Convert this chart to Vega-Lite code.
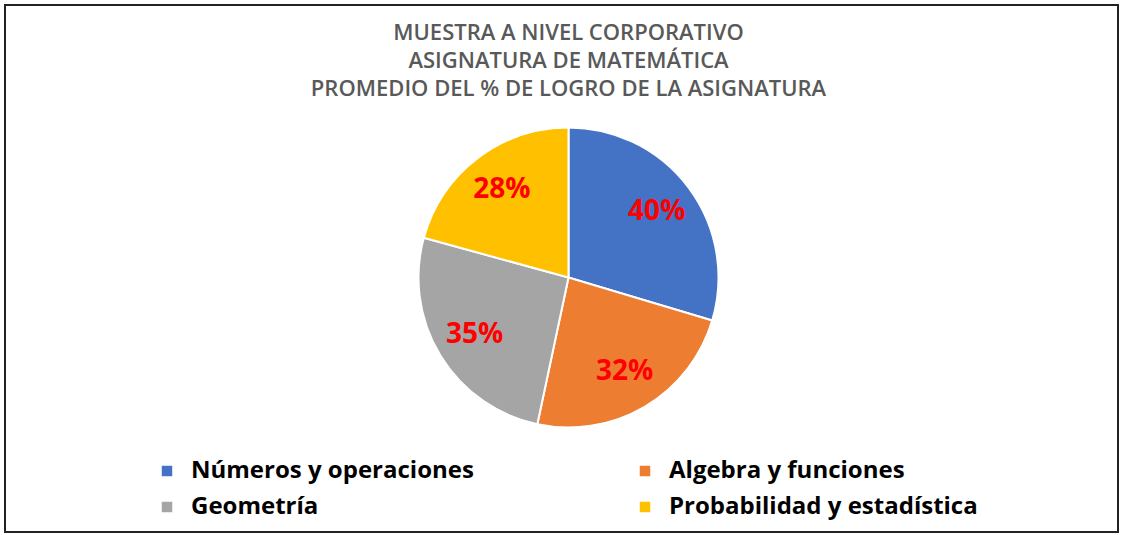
{
  "$schema": "https://vega.github.io/schema/vega-lite/v6.json",
  "width": 1113,
  "height": 527,
  "autosize": {"type": "none"},
  "padding": {"left": 5, "top": 5, "right": 5, "bottom": 3},
  "background": "white",
  "view": {"stroke": "#222222", "strokeWidth": 2},
  "title": {
    "text": ["MUESTRA A  NIVEL CORPORATIVO", "ASIGNATURA DE MATEMÁTICA", "PROMEDIO DEL % DE LOGRO DE LA  ASIGNATURA"],
    "orient": "top",
    "anchor": "middle",
    "offset": -96,
    "dx": 7,
    "font": "Open Sans",
    "fontSize": 22,
    "fontWeight": 600,
    "color": "#595959",
    "lineHeight": 28
  },
  "data": {
    "values": [
      {"area": "Números y operaciones", "valor": 40, "etiqueta": "40%", "orden": 1},
      {"area": "Algebra y funciones", "valor": 32, "etiqueta": "32%", "orden": 2},
      {"area": "Geometría", "valor": 35, "etiqueta": "35%", "orden": 3},
      {"area": "Probabilidad y estadística", "valor": 28, "etiqueta": "28%", "orden": 4}
    ]
  },
  "encoding": {
    "theta": {"field": "valor", "type": "quantitative", "stack": true},
    "order": {"field": "orden", "type": "quantitative"},
    "color": {
      "field": "area",
      "type": "nominal",
      "sort": ["Números y operaciones", "Algebra y funciones", "Geometría", "Probabilidad y estadística"],
      "scale": {
        "domain": ["Números y operaciones", "Algebra y funciones", "Geometría", "Probabilidad y estadística"],
        "range": ["#4472C4", "#ED7D31", "#A5A5A5", "#FFC000"]
      },
      "legend": {
        "title": null,
        "orient": "none",
        "legendX": 150,
        "legendY": 454,
        "direction": "horizontal",
        "columns": 2,
        "columnPadding": 159,
        "rowPadding": 12,
        "symbolType": "square",
        "symbolSize": 110,
        "symbolStrokeWidth": 0,
        "symbolOpacity": 1,
        "labelFont": "Open Sans",
        "labelFontSize": 24,
        "labelFontWeight": "bold",
        "labelColor": "#000000",
        "labelOffset": 12,
        "labelLimit": 400
      }
    }
  },
  "layer": [
    {
      "mark": {"type": "arc", "outerRadius": 150, "stroke": "white", "strokeWidth": 2, "xOffset": 7, "yOffset": 9}
    },
    {
      "mark": {"type": "text", "radius": 110, "xOffset": 7, "yOffset": 9, "font": "Open Sans", "fontSize": 28, "fontWeight": "bold", "letterSpacing": 1, "fill": "#FF0000"},
      "encoding": {
        "text": {"field": "etiqueta", "type": "nominal"},
        "color": {"value": "#FF0000"}
      }
    }
  ]
}
